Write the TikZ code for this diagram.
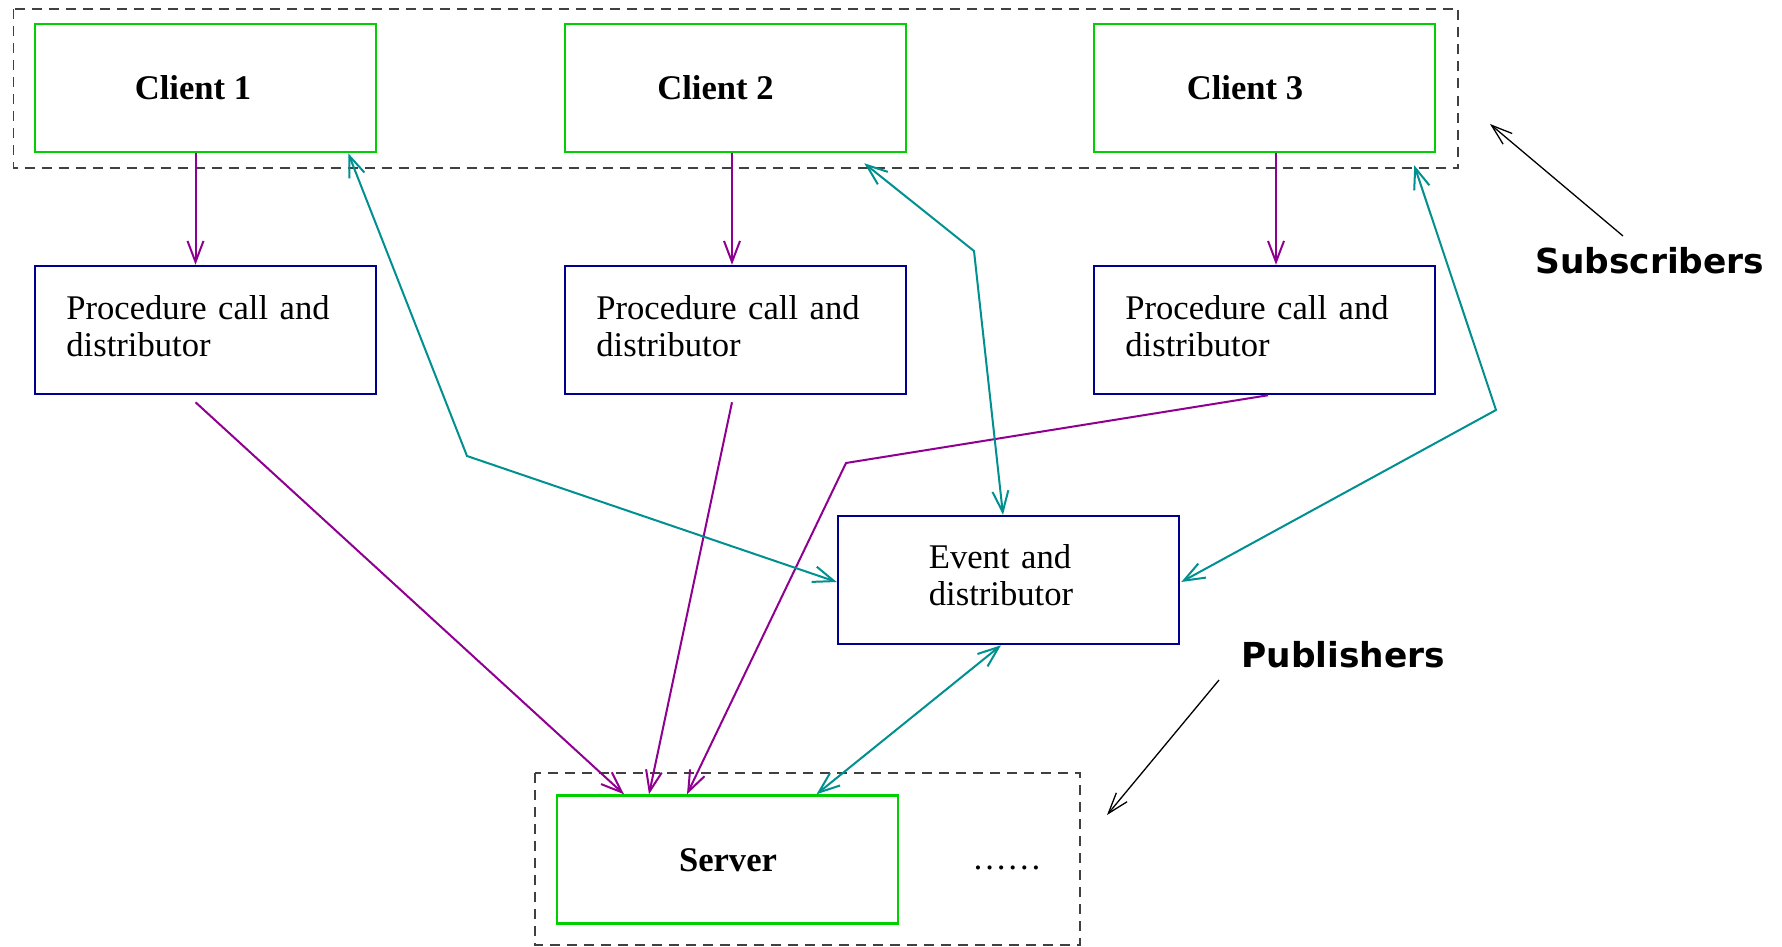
\documentclass[tikz,border=0pt]{standalone}
\usepackage{fontspec}
\setmainfont{Liberation Serif}
\newfontfamily\annotfont{DejaVu Sans}
\usetikzlibrary{arrows.meta,calc}

\definecolor{clientgreen}{RGB}{0,208,0}
\definecolor{unitblue}{RGB}{0,0,144}
\definecolor{callpurple}{RGB}{144,0,144}
\definecolor{eventteal}{RGB}{0,144,144}
\definecolor{groupgray}{RGB}{64,64,64}

\tikzset{
  clientbox/.style={draw=clientgreen, line width=1.25pt, minimum width=170.5pt,
    minimum height=64pt, inner sep=0pt},
  unitbox/.style={draw=unitblue, line width=1.25pt, minimum width=170.5pt,
    minimum height=64pt, inner sep=0pt},
  groupbox/.style={draw=groupgray, line width=0.7pt, dash pattern=on 5pt off 3.5pt},
  boldtext/.style={font=\bfseries\fontsize{17.3pt}{18.75pt}\selectfont, inner sep=0pt},
  bodytext/.style={font=\fontsize{17.3pt}{18.75pt}\selectfont, inner sep=0pt,
    text width=150pt, align=left},
  annottext/.style={font=\annotfont\bfseries\fontsize{17.2pt}{20pt}\selectfont, inner sep=0pt},
  barbtip/.tip={Straight Barb[length=10.5pt,width=8pt]},
  notetip/.tip={Straight Barb[length=10.5pt,width=7pt]},
  callarrow/.style={draw=callpurple, line width=1pt, -{barbtip}},
  eventarrow/.style={draw=eventteal, line width=1pt, {barbtip}-{barbtip}},
  notearrow/.style={draw=black, line width=0.65pt, -{notetip}},
}

\begin{document}
\begin{tikzpicture}[x=0.5pt,y=-0.5pt]
  \useasboundingbox (0,0) rectangle (1782,947);
  \fill[white] (0,0) rectangle (1782,947);

  % groups of subscribers and publishers
  \draw[groupbox] (13.5,9) rectangle (1458,168);
  \draw[groupbox] (535,773) rectangle (1080,945);

  % clients
  \node[clientbox] (c1) at (205.5,88) {};
  \node[clientbox] (c2) at (735.5,88) {};
  \node[clientbox] (c3) at (1264.5,88) {};
  \node[boldtext, anchor=base] (c1t) at (193,100) {Client 1};
  \node[boldtext, anchor=base] (c2t) at (715.5,100) {Client 2};
  \node[boldtext, anchor=base] (c3t) at (1245,100) {Client 3};

  % procedure call units
  \node[unitbox] (p1) at (205.5,330) {};
  \node[unitbox] (p2) at (735.5,330) {};
  \node[unitbox] (p3) at (1264.5,330) {};
  \node[bodytext, anchor=base west] (p1t) at (66,319) {Procedure call and\\distributor};
  \node[bodytext, anchor=base west] (p2t) at (596,319) {Procedure call and\\distributor};
  \node[bodytext, anchor=base west] (p3t) at (1125,319) {Procedure call and\\distributor};

  % event unit
  \node[unitbox] (ev) at (1008.5,580) {};
  \node[bodytext, anchor=base west] (evt) at (928.5,568) {Event and\\distributor};

  % server
  \node[clientbox] (sv) at (727.5,859.5) {};
  \node[boldtext, anchor=base] (svt) at (728,871) {Server};
  \node[font=\fontsize{17.3pt}{18.75pt}\selectfont, inner sep=0pt, anchor=base] (more) at (1007,869) {……};

  % procedure calls
  \draw[callarrow] ($(c1.south)+(-10,0)$) -- ($(p1.north)+(-10,0)$);
  \draw[callarrow] ($(c2.south)+(-3.5,0)$) -- ($(p2.north)+(-3.5,0)$);
  \draw[callarrow] ($(c3.south)+(11.5,0)$) -- ($(p3.north)+(11.5,0)$);
  \draw[callarrow] ($(p1.south)+(-10,7)$) -- ($(sv.north)+(-103.5,0)$);
  \draw[callarrow] ($(p2.south)+(-3.5,7)$) -- ($(sv.north)+(-78.5,0)$);
  \draw[callarrow] ($(p3.south)+(3.5,0)$) -- (846,463) -- ($(sv.north)+(-40.5,0)$);

  % events
  \coordinate (c2end) at ($(c2.south east)+(-43,10)$);
  \coordinate (c3end) at ($(c3.south east)+(-22,12)$);
  \draw[eventarrow] ($(c1.south east)+(-29,0)$) -- (467,456) -- ($(ev.west)+(0,2)$);
  \draw[eventarrow] (c2end) -- (974,251) -- ($(ev.north)+(-5.5,0)$);
  \draw[eventarrow] (c3end) -- (1496,410) -- ($(ev.east)+(1,2)$);
  \draw[eventarrow] ($(ev.south)+(-7.5,0)$) -- ($(sv.north)+(89,0)$);

  % annotations
  \node[annottext, anchor=base west] (subl) at (1535,273) {Subscribers};
  \node[annottext, anchor=base west] (publ) at (1241,667) {Publishers};
  \coordinate (subtail) at (1623,236);
  \coordinate (subtip) at (1490,124);
  \coordinate (pubtail) at (1219,680);
  \coordinate (pubtip) at (1107,815);
  \draw[notearrow] (subtail) -- (subtip);
  \draw[notearrow] (pubtail) -- (pubtip);
\end{tikzpicture}
\end{document}
